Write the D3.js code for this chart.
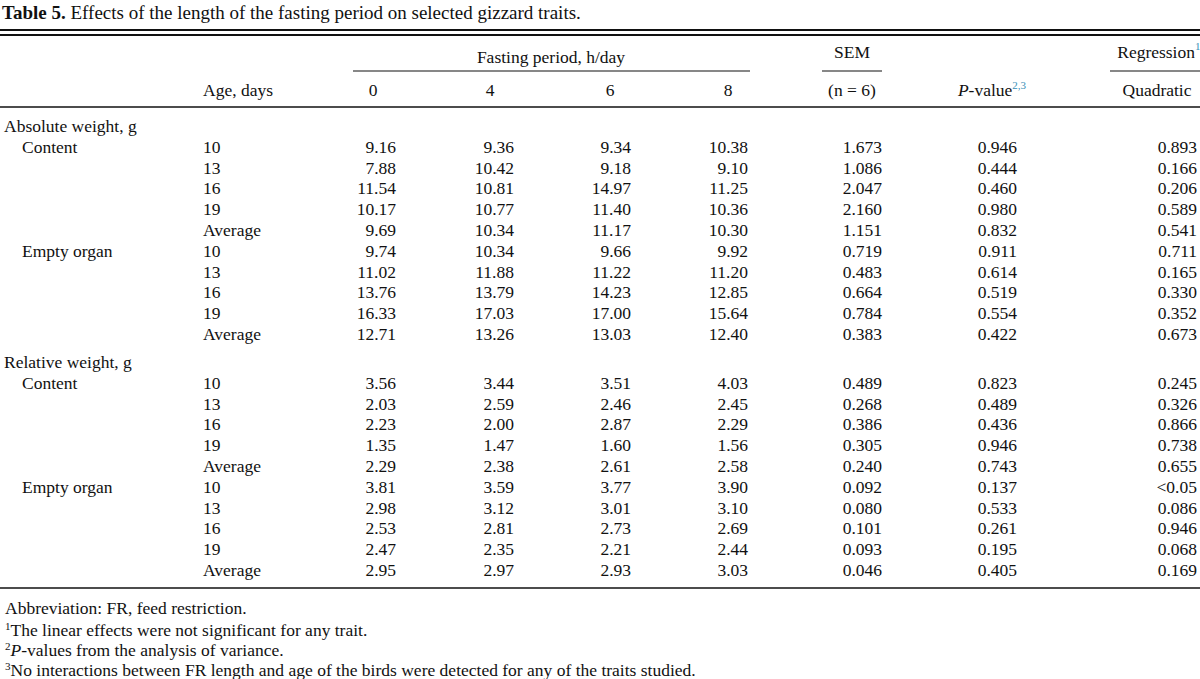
<!DOCTYPE html><html><head><meta charset="utf-8"><script src="https://cdn.jsdelivr.net/npm/d3@7"></script>
<style>body{margin:0;background:#fff}text{font-family:"Liberation Serif","DejaVu Serif",serif;fill:#111}</style></head><body>
<svg id="c" width="1200" height="679"></svg>
<script>
const title = "Effects of the length of the fasting period on selected gizzard traits.";
const fastingPeriods = ["0","4","6","8"];
const ages = ["10","13","16","19","Average"];
const sections = ["Absolute weight, g","Relative weight, g"];
const traits = ["Content","Empty organ"];
const absContent = [["9.16","9.36","9.34","10.38","1.673","0.946","0.893"],["7.88","10.42","9.18","9.10","1.086","0.444","0.166"],["11.54","10.81","14.97","11.25","2.047","0.460","0.206"],["10.17","10.77","11.40","10.36","2.160","0.980","0.589"],["9.69","10.34","11.17","10.30","1.151","0.832","0.541"]];
const absEmpty = [["9.74","10.34","9.66","9.92","0.719","0.911","0.711"],["11.02","11.88","11.22","11.20","0.483","0.614","0.165"],["13.76","13.79","14.23","12.85","0.664","0.519","0.330"],["16.33","17.03","17.00","15.64","0.784","0.554","0.352"],["12.71","13.26","13.03","12.40","0.383","0.422","0.673"]];
const relContent = [["3.56","3.44","3.51","4.03","0.489","0.823","0.245"],["2.03","2.59","2.46","2.45","0.268","0.489","0.326"],["2.23","2.00","2.87","2.29","0.386","0.436","0.866"],["1.35","1.47","1.60","1.56","0.305","0.946","0.738"],["2.29","2.38","2.61","2.58","0.240","0.743","0.655"]];
const relEmpty = [["3.81","3.59","3.77","3.90","0.092","0.137","<0.05"],["2.98","3.12","3.01","3.10","0.080","0.533","0.086"],["2.53","2.81","2.73","2.69","0.101","0.261","0.946"],["2.47","2.35","2.21","2.44","0.093","0.195","0.068"],["2.95","2.97","2.93","3.03","0.046","0.405","0.169"]];
const footnotes = ["Abbreviation: FR, feed restriction.","The linear effects were not significant for any trait.","-values from the analysis of variance.","No interactions between FR length and age of the birds were detected for any of the traits studied."];

const svg = d3.select("#c");
const fs = 17.5;
const colEnds = [396,514,631,748,882,1017,1197];
const colCenters = [373,490,610,728,852,996,1154];
svg.append("text").attr("x",2).attr("y",19).attr("font-size",19).html('<tspan font-weight="bold">Table 5.</tspan> '+title);
const line=(x1,x2,y,w=1.6)=>svg.append("line").attr("x1",x1).attr("x2",x2).attr("y1",y).attr("y2",y).attr("stroke","#111").attr("stroke-width",w);
line(0,1200,30,1.8);line(0,1200,35,1.8);
line(353,750,71,1.2);line(822,882,71,1.2);line(1110,1200,71,1.2);
line(0,1200,107,1.6);line(0,1200,588,1.6);
svg.append("text").attr("x",551).attr("y",63).attr("font-size",fs).attr("text-anchor","middle").text("Fasting period, h/day");
svg.append("text").attr("x",852).attr("y",58).attr("font-size",fs).attr("text-anchor","middle").text("SEM");
svg.append("text").attr("x",1195).attr("y",58).attr("font-size",fs).attr("text-anchor","end").text("Regression");
svg.append("text").attr("x",1195).attr("y",50).attr("font-size",11).style("fill","#3a8fb7").text("1");
svg.append("text").attr("x",203).attr("y",96).attr("font-size",fs).text("Age, days");
fastingPeriods.forEach((f,i)=>svg.append("text").attr("x",colCenters[i]).attr("y",96).attr("font-size",fs).attr("text-anchor","middle").text(f));
svg.append("text").attr("x",852).attr("y",96).attr("font-size",fs).attr("text-anchor","middle").text("(n = 6)");
svg.append("text").attr("x",992).attr("y",96).attr("font-size",fs).attr("text-anchor","middle").html('<tspan font-style="italic">P</tspan>-value<tspan dy="-7" font-size="11" style="fill:#3a8fb7">2,3</tspan>');
svg.append("text").attr("x",1157).attr("y",96).attr("font-size",fs).attr("text-anchor","middle").text("Quadratic");

const blocks=[[absContent,absEmpty],[relContent,relEmpty]];
const rowY = d3.scaleLinear().domain([0,1]).range([0,20.8]);
const secStart=[132,368];
blocks.forEach((b,s)=>{
  const y0=secStart[s];
  svg.append("text").attr("x",4).attr("y",y0).attr("font-size",fs).text(sections[s]);
  b.forEach((rows,t)=>{
    rows.forEach((r,k)=>{
      const y=y0+rowY(1+t*5+k);
      if(k===0) svg.append("text").attr("x",22).attr("y",y).attr("font-size",fs).text(traits[t]);
      svg.append("text").attr("x",203).attr("y",y).attr("font-size",fs).text(ages[k]);
      r.forEach((v,c)=>svg.append("text").attr("x",colEnds[c]).attr("y",y).attr("font-size",fs).attr("text-anchor","end").text(v));
    });
  });
});
const fy=[614,636,656,676];
svg.append("text").attr("x",5).attr("y",fy[0]).attr("font-size",fs).text(footnotes[0]);
svg.append("text").attr("x",5).attr("y",fy[1]).attr("font-size",fs).html('<tspan dy="-6" font-size="11">1</tspan><tspan dy="6">'+footnotes[1]+'</tspan>');
svg.append("text").attr("x",5).attr("y",fy[2]).attr("font-size",fs).html('<tspan dy="-6" font-size="11">2</tspan><tspan dy="6" font-style="italic">P</tspan>'+footnotes[2]);
svg.append("text").attr("x",5).attr("y",fy[3]).attr("font-size",fs).html('<tspan dy="-6" font-size="11">3</tspan><tspan dy="6">'+footnotes[3]+'</tspan>');
</script></body></html>
